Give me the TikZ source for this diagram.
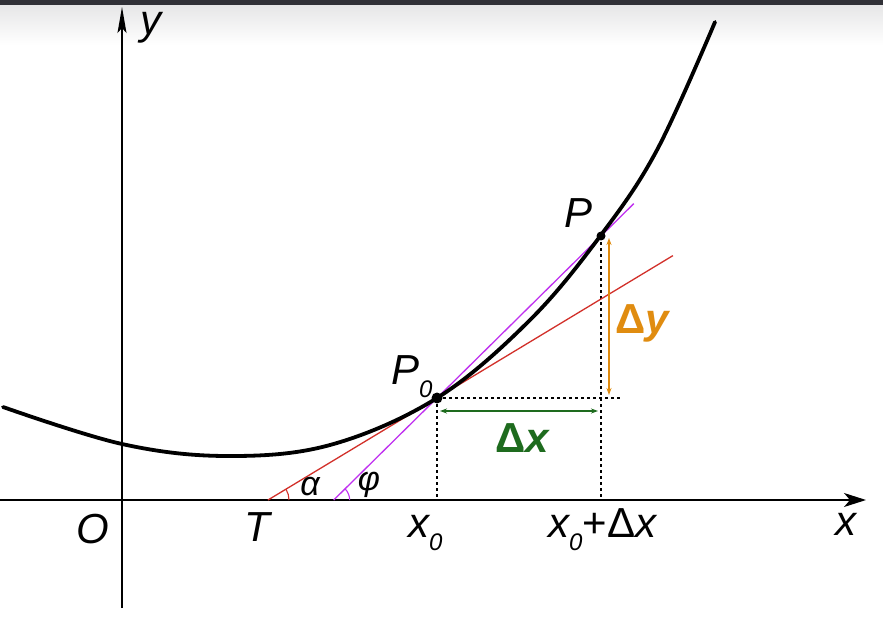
\documentclass[tikz,border=0pt]{standalone}
\usepackage{fontspec}
\setmainfont{Liberation Sans}
\usetikzlibrary{arrows.meta,calc}
\definecolor{tanred}{HTML}{D2302A}
\definecolor{secmag}{HTML}{C030F0}
\definecolor{dxgreen}{HTML}{1E6B1E}
\definecolor{dyorange}{HTML}{E08C10}
\definecolor{topbar}{HTML}{303036}
\newcommand{\zsub}[1]{\raisebox{-0.32em}{\fontsize{24}{24}\selectfont #1}}
\begin{document}
\begin{tikzpicture}[x=1pt,y=1pt,
  lbl/.style={font=\fontsize{42}{42}\selectfont\itshape, inner sep=0pt},
  axis/.style={line width=1.6pt},
  guide/.style={line width=1.8pt, dash pattern=on 3pt off 3pt},
  thin line/.style={line width=1.3pt},
  dot/.style={circle, fill=black, inner sep=0pt}]
\useasboundingbox (0,0) rectangle (883,641);
\fill[white] (0,0) rectangle (883,641);
\shade[top color=topbar!12, bottom color=white] (0,596) rectangle (883,636);
\fill[topbar] (0,636) rectangle (883,641);

% key points
\coordinate (O) at (122,141);
\coordinate (T) at (268,141);
\coordinate (P0) at (437,243);
\coordinate (P) at (601,405);
\coordinate (X0) at (437,141);
\coordinate (X1) at (601,141);
\coordinate (H) at (621,243);
\coordinate (XE) at (866,141);
\coordinate (XS) at (0,141);
\coordinate (YS) at (122,33);
\coordinate (YE) at (122,634);

% axes
\draw[axis, -{Stealth[length=22pt,width=14pt,inset=6pt]}] (XS) -- (XE);
\draw[line width=1.3pt, -{Stealth[length=26pt,width=9pt,inset=5pt]}] (YS) -- (YE);

% guides
\draw[guide] (P0) -- (X0);
\draw[guide] (P) -- (X1);
\draw[guide] (P0) -- (H);

% tangent and secant
\draw[thin line, tanred] (T) -- ($(T)!2.396!(P0)$);
\draw[thin line, secmag] ($(P0)!-0.63!(P)$) coordinate (S) -- ($(P0)!1.2!(P)$);

% angle arcs
\draw[line width=1.1pt, tanred] ($(T)+(21,0)$) arc[start angle=0, end angle=31.1, radius=21];
\draw[line width=1.1pt, secmag] ($(S)+(16,0)$) arc[start angle=0, end angle=44.6, radius=16];

% curve
\draw[line width=3.8pt, line cap=round, line join=round] plot[smooth, tension=0.6] coordinates
  {(3,234) (122,197) (226,185) (330,196) (437,243) (530,321) (601,406) (657,491) (715,619)};

% points
\node[dot, minimum size=11pt] at (P0) {};
\node[dot, minimum size=9pt] at (P) {};

% delta arrows
\coordinate (DXa) at (440,230);
\coordinate (DXb) at (598,230);
\draw[dxgreen, line width=1.3pt, {Stealth[length=7pt,width=5pt]}-{Stealth[length=7pt,width=5pt]}] (DXa) -- (DXb);
\coordinate (DYa) at (609,403);
\coordinate (DYb) at (609,246);
\draw[dyorange, line width=1.6pt, {Stealth[length=7pt,width=5pt]}-{Stealth[length=7pt,width=5pt]}] (DYa) -- (DYb);

% labels
\node[lbl] (ly) at (151,613) {y};
\node[lbl] (lx) at (846,117) {x};
\node[lbl] (lO) at (93,112) {O};
\node[lbl] (lT) at (257,114) {T};
\node[lbl, anchor=base west] (lx0) at (408,104) {x\zsub{0}};
\node[lbl, anchor=base west] (lx1) at (548,104) {x\zsub{0}\upshape +Δ\itshape x};
\node[lbl, anchor=base west] (lP0) at (391,257) {P\zsub{0}};
\node[lbl] (lP) at (578,428) {P};
\node[lbl, font=\fontsize{34}{34}\selectfont\itshape] (la) at (310,154) {α};
\node[lbl, font=\fontsize{34}{34}\selectfont\itshape] (lf) at (369,156) {φ};
\node[lbl, dxgreen, font=\fontsize{42}{42}\selectfont\bfseries] (ldx) at (522,203) {Δ\itshape x};
\node[lbl, dyorange, font=\fontsize{42}{42}\selectfont\bfseries] (ldy) at (642,318) {Δ\itshape y};
\end{tikzpicture}
\end{document}
